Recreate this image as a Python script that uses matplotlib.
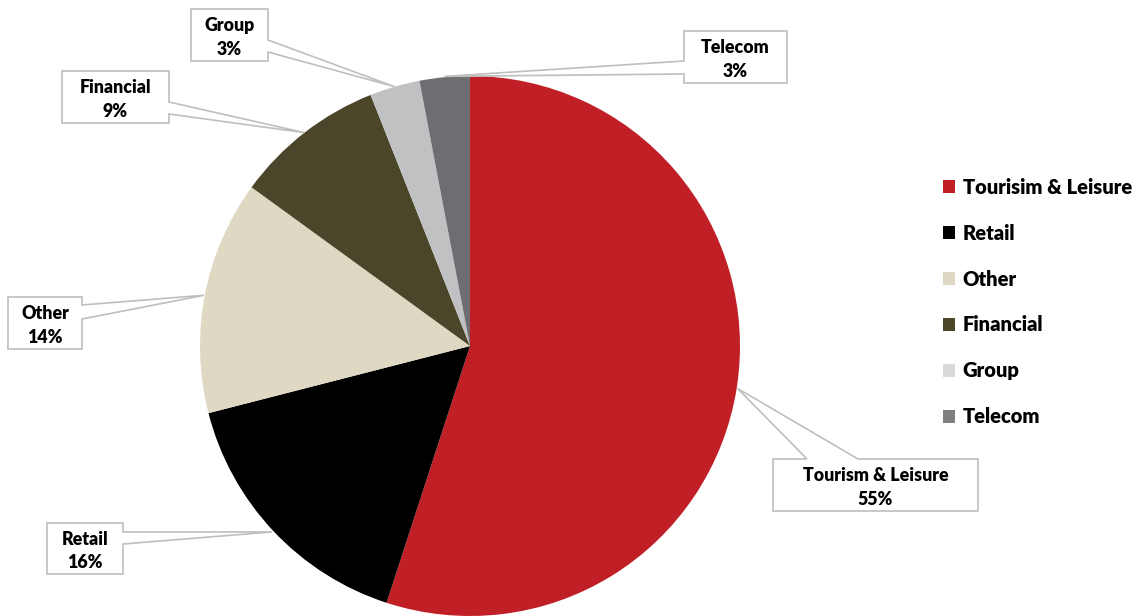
import numpy as np
import matplotlib
matplotlib.use("Agg")
import matplotlib.pyplot as plt
from matplotlib.patches import Polygon, Patch

plt.rcParams['font.family'] = ['Lato', 'DejaVu Sans']
plt.rcParams['font.weight'] = 'heavy'

# data
sectors = ["Tourism & Leisure", "Retail", "Other", "Financial", "Group", "Telecom"]
shares = [55, 16, 14, 9, 3, 3]
legend_labels = ["Tourisim & Leisure", "Retail", "Other", "Financial", "Group", "Telecom"]
colors = ["#C01F26", "#000000", "#DFD8C3", "#4B4529", "#C0C1C3", "#6D6E71"]
legend_colors = ["#C01F26", "#000000", "#DFD8C3", "#4B4529", "#D9D9D9", "#808080"]

W, H = 1139, 616
fig = plt.figure(figsize=(W / 100, H / 100), dpi=100)
ax = fig.add_axes([0, 0, 1, 1])

cx, cy, R = 470, H - 346, 270
wedges, _ = ax.pie(shares, colors=colors, startangle=90, counterclock=False,
                   center=(cx, cy), radius=R, wedgeprops=dict(linewidth=0))

# callout boxes in image pixel coords: (left, top, right, bottom), side, base1, base2
boxes = [
    ((773, 459, 978, 511), "top", 807, 858),
    ((47, 523, 123, 574), "right", 532, 544),
    ((8, 297, 82, 349), "right", 305, 319),
    ((62, 71, 169, 123), "right", 102, 114),
    ((191, 9, 268, 61), "right", 40, 52),
    ((684, 31, 787, 83), "left", 61, 74),
]
tip_r = [1.003, 1.006, 1.003, 1.0, 1.0, 1.003]


def callout(box, side, b1, b2, tip):
    x0, t, x1, b = box
    t, b = H - t, H - b
    if side == "top":
        pts = [(x0, t), (b1, t), tip, (b2, t), (x1, t), (x1, b), (x0, b)]
    elif side == "right":
        b1, b2 = H - b1, H - b2
        pts = [(x0, t), (x1, t), (x1, b1), tip, (x1, b2), (x1, b), (x0, b)]
    else:
        b1, b2 = H - b1, H - b2
        pts = [(x0, t), (x1, t), (x1, b), (x0, b), (x0, b2), tip, (x0, b1)]
    ax.add_patch(Polygon(pts, closed=True, facecolor="white",
                         edgecolor="#BFBFBF", linewidth=1.2, zorder=3))
    return (x0 + x1) / 2, (t + b) / 2


for w, (box, side, b1, b2), rr, name, v in zip(wedges, boxes, tip_r, sectors, shares):
    mid = np.deg2rad((w.theta1 + w.theta2) / 2)
    tip = (cx + R * rr * np.cos(mid), cy + R * rr * np.sin(mid))
    tx, ty = callout(box, side, b1, b2, tip)
    ax.text(tx, ty - 2.5, f"{name}\n{v}%", ha="center", va="center", fontsize=12.8,
            fontweight="heavy", linespacing=1.45, zorder=4)

handles = [Patch(facecolor=c, edgecolor="none") for c in legend_colors]
ax.legend(handles, legend_labels, loc="center left", bbox_to_anchor=(943 / W, 1 - 302 / H),
          bbox_transform=fig.transFigure, frameon=False, fontsize=14.5,
          handlelength=0.62, handleheight=0.62, handletextpad=0.35,
          labelspacing=1.34, borderpad=0, borderaxespad=0)

ax.set_xlim(0, W)
ax.set_ylim(0, H)
ax.set_aspect("auto")
ax.axis("off")
fig.savefig("out.png", dpi=100)
